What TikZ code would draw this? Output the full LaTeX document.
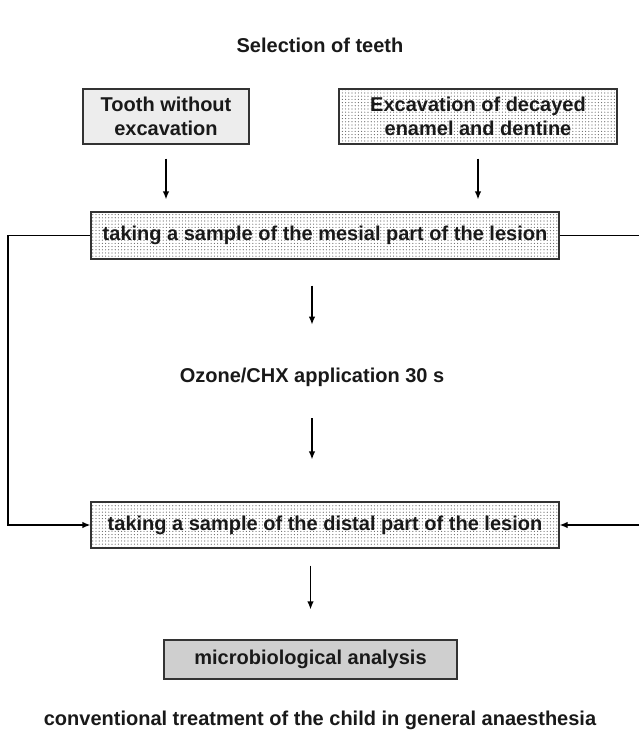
\documentclass[tikz,border=0pt]{standalone}
\usepackage{fontspec}
\setmainfont{Liberation Sans}
\usetikzlibrary{
    arrows.meta,
    patterns.meta,
    positioning
}

\begin{document}
\begin{tikzpicture}[x=0.5pt, y=-0.5pt, >={Latex[length=4pt, width=3.2pt]},
    every node/.style={font=\fontsize{10}{12}\selectfont\bfseries, text=black!90},
    box/.style={draw=black!80, line width=0.6pt, inner sep=0pt, align=center},
    dotbox/.style={box, pattern={Dots[distance=1.6pt, radius=0.3pt]}, pattern color=black!60},
    arr/.style={->, line width=0.6pt}]
    \useasboundingbox (0, 0) rectangle (639, 733);
    \node (sel) at (320, 45) {Selection of teeth};
    \node[box, fill=black!7, minimum width=83pt, minimum height=27.5pt] (tooth) at (166, 116.5) {Tooth without\\excavation};
    \node[dotbox, minimum width=139pt, minimum height=27.5pt] (excav) at (478, 116.5) {Excavation of decayed\\enamel and dentine};
    \node[dotbox, minimum width=234pt, minimum height=23.5pt] (mesial) at (325, 235.5) {taking a sample of the mesial part of the lesion};
    \node (ozone) at (312, 377) {Ozone/CHX application 30 s};
    \node[dotbox, minimum width=234pt, minimum height=23pt] (distal) at (325, 525) {taking a sample of the distal part of the lesion};
    \node[box, fill=black!19, minimum width=146.5pt, minimum height=19.5pt] (micro) at (310.5, 659.5) {microbiological analysis};
    \node (conv) at (320, 720) {conventional treatment of the child in general anaesthesia};
    \coordinate (lft) at (8, 380);
    \coordinate (rgt) at (639, 380);
    % downward arrows
    \draw[arr, shorten <=7pt, shorten >=6pt] (tooth.south) -- (tooth.south |- mesial.north);
    \draw[arr, shorten <=7pt, shorten >=6pt] (excav.south) -- (excav.south |- mesial.north);
    \draw[arr, shorten <=13pt, shorten >=18pt] (mesial.south -| ozone) -- (ozone.north);
    \draw[arr, shorten <=12.5pt, shorten >=21pt] (ozone.south) -- (ozone.south |- distal.north);
    \draw[arr, shorten <=8.5pt, shorten >=15pt] (distal.south -| micro) -- (micro.north);
    % side lines
    \draw[arr] (mesial.west) -- (mesial.west -| lft) -- (distal.west -| lft) -- (distal.west);
    \draw[line width=0.6pt] (mesial.east) -- (mesial.east -| rgt);
    \draw[arr] (distal.east -| rgt) -- (distal.east);
\end{tikzpicture}
\end{document}
